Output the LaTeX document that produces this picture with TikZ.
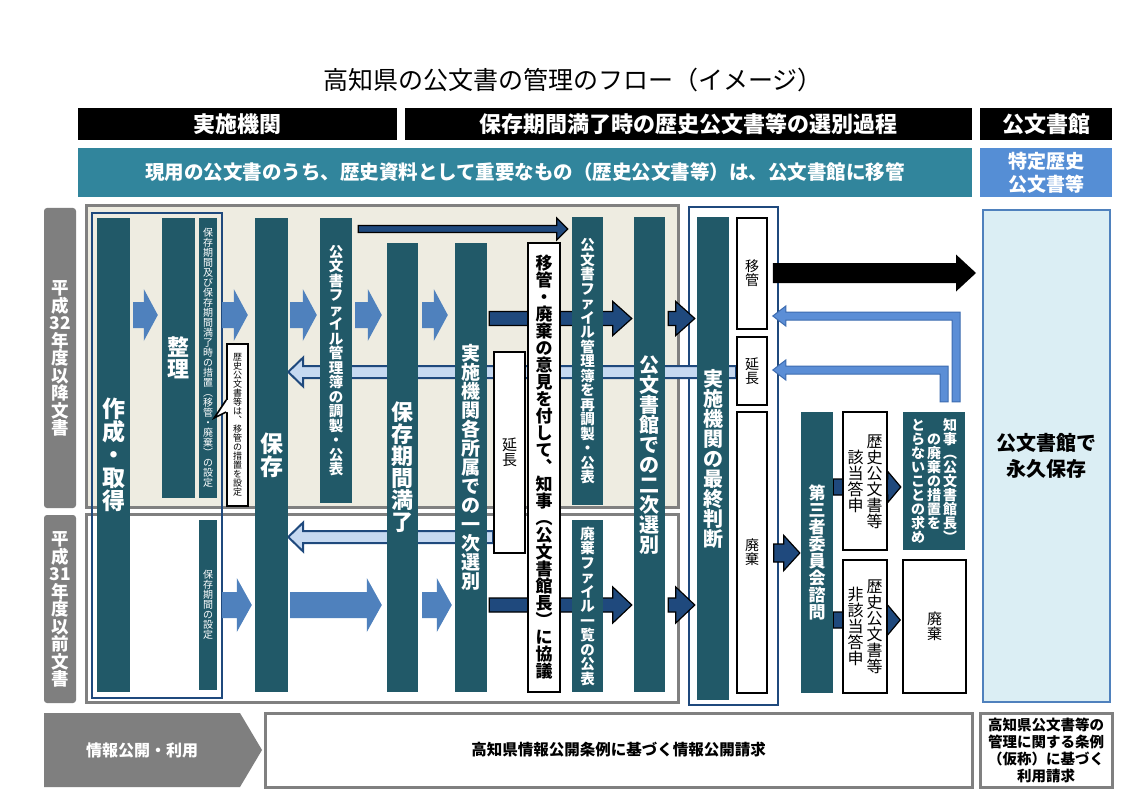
\documentclass[tikz,border=0pt]{standalone}
\usepackage{fontspec}
\setmainfont{Noto Sans CJK JP}
\usepackage{tikz}
\usetikzlibrary{positioning}
\usetikzlibrary{calc}

\definecolor{colteal}{HTML}{215968}
\definecolor{bandteal}{HTML}{31859C}
\definecolor{tokublue}{HTML}{558ED5}
\definecolor{beige}{HTML}{EEECE1}
\definecolor{pangray}{HTML}{808080}
\definecolor{labgray}{HTML}{7F7F7F}
\definecolor{navy}{HTML}{1F497D}
\definecolor{arrblue}{HTML}{4F81BD}
\definecolor{hollowblue}{HTML}{C6D9F1}
\definecolor{retblue}{HTML}{5B8ED6}
\definecolor{retedge}{HTML}{3D6CB0}
\definecolor{paleblue}{HTML}{DBEEF4}

\pgfdeclarelayer{back}
\pgfdeclarelayer{mid}
\pgfsetlayers{back,mid,main}

\makeatletter
\newcommand\tate[1]{\vbox{\offinterlineskip\@tfor\tate@c:=#1\do{\hbox to 1em{\hss\vrule height .88em depth .12em width 0pt\tate@c\hss}}}}
\makeatother
\newcommand\tatec[1]{$\vcenter{\tate{#1}}$}
\newcommand\fsz[1]{\fontsize{#1}{#1}\selectfont}
\newcommand\blk[6]{\path[#1] let \p1=#2, \p2=#3, \n1={#6*sign(\x2-\x1)} in (\x1,{\y1-#4}) -- ({\x2-(\n1)},{\y1-#4}) -- ({\x2-(\n1)},{\y1-#5}) -- (\x2,\y1) -- ({\x2-(\n1)},{\y1+#5}) -- ({\x2-(\n1)},{\y1+#4}) -- (\x1,{\y1+#4}) -- cycle;}
\newcommand\larr[3]{\path[#1] let \p1=#2, \p2=#3 in ({\x1-4pt},\y1) -- ({\x1-4pt},{\y2-4pt}) -- ({\x2+13pt},{\y2-4pt}) -- ({\x2+13pt},{\y2-10pt}) -- (\x2,\y2) -- ({\x2+13pt},{\y2+10pt}) -- ({\x2+13pt},{\y2+4pt}) -- ({\x1+4pt},{\y2+4pt}) -- ({\x1+4pt},\y1) -- cycle;}

\begin{document}
\begin{tikzpicture}[x=1pt, y=-1pt,
col/.style={rectangle, fill=colteal, text=white, inner sep=0pt},
wbox/.style={rectangle, draw=black, line width=1.6pt, fill=white, inner sep=0pt},
wh/.style 2 args={minimum width=#1, minimum height=#2},
fs/.style={font=\bfseries\fsz{#1}},
hdr/.style={rectangle, fill=black, text=white, inner sep=0pt, minimum height=32pt, font=\bfseries\fsz{22}},
lab/.style={rectangle, rounded corners=3pt, fill=labgray, text=white, inner sep=0pt},
panel/.style={rectangle, draw=pangray, line width=3pt, inner sep=0pt},
bframe/.style={rectangle, draw=navy, line width=2.5pt, inner sep=0pt},
lblue/.style={fill=arrblue},
dblue/.style={fill=navy, draw=black, line width=1.2pt},
blackarr/.style={fill=black},
hollow/.style={fill=hollowblue, draw=navy, line width=2pt},
lret/.style={fill=retblue, draw=retedge, line width=1pt},
]
\useasboundingbox (0,0) rectangle (1123,794);

%Header
\node[font=\fsz{25}] (title) at (573,80) {高知県の公文書の管理のフロー（イメージ）};
\node[hdr, minimum width=319pt] (hdrA) at (237.5,124) {実施機関};
\node[hdr, minimum width=567pt] (hdrB) at (688.5,124) {保存期間満了時の歴史公文書等の選別過程};
\node[hdr, minimum width=132pt] (hdrC) at (1046,124) {公文書館};
\node[rectangle, fill=bandteal, text=white, inner sep=0pt, wh={894pt}{49pt}, fs=19.5] (band) at (525,172.5) {現用の公文書のうち、歴史資料として重要なもの（歴史公文書等）は、公文書館に移管};
\node[rectangle, fill=tokublue, text=white, inner sep=0pt, wh={132pt}{49pt}, align=center, font=\bfseries\fontsize{19}{23}\selectfont] (tokutei) at (1046,172.5) {特定歴史\\公文書等};

%Panels
\begin{pgfonlayer}{back}
\fill[white] (0,0) rectangle (1123,794);
\node[panel, fill=beige, wh={592pt}{301pt}] (upper) at (382,356.5) {};
\node[panel, fill=white, wh={592pt}{188pt}] (lower) at (382,608) {};
\node[lab, wh={32pt}{300pt}, fs=17.5] (lab32) at (60,358) {\tate{平成{32}年度以降文書}};
\node[lab, wh={32pt}{188pt}, fs=17.5] (lab31) at (60,609) {\tate{平成{31}年度以前文書}};
\node[bframe, wh={130pt}{485pt}] (leftframe) at (157,455.5) {};
\node[bframe, fill=white, wh={89pt}{498pt}] (finalframe) at (733.5,456) {};
\end{pgfonlayer}
\node[rectangle, draw=arrblue, line width=2pt, fill=paleblue, wh={127pt}{492pt}, align=center, font=\bfseries\fontsize{20}{26}\selectfont] (eikyu) at (1046.5,456) {公文書館で\\永久保存};

%Nodes
\node[col, wh={33pt}{474pt}, fs=23] (sakusei) at (113.5,455) {\tate{作成・取得}};
\node[col, wh={33pt}{280pt}, fs=22] (seiri) at (178.5,358) {\tate{整理}};
\node[col, wh={18pt}{280pt}, font=\fsz{10}] (settei1) at (208,358) {\tate{保存期間及び保存期間満了時の措置︵移管・廃棄︶の設定}};
\node[col, wh={18pt}{170pt}, font=\fsz{10}] (settei2) at (208,605) {\tate{保存期間の設定}};
\node[wbox, wh={21pt}{162pt}, font=\fsz{9}] (callout) at (237.5,425) {\tate{歴史公文書等は︑移管の措置を設定}};
\node[col, wh={33pt}{474pt}, fs=23] (hozon) at (271.5,455) {\tate{保存}};
\node[col, wh={32pt}{285pt}, fs=14.5] (kanribo) at (336,360.5) {\tate{公文書ファイル管理簿の調製・公表}};
\node[col, wh={31pt}{449pt}, fs=22] (manryo) at (402.5,467.5) {\tate{保存期間満了}};
\node[col, wh={32pt}{449pt}, fs=19] (ichiji) at (471,467.5) {\tate{実施機関各所属での一次選別}};
\node[wbox, wh={31pt}{201pt}, font=\fsz{15}] (encho1) at (509.5,452.5) {\tate{延長}};
\node[wbox, wh={32pt}{449pt}, fs=17] (kyogi) at (544,467.5) {\tate{移管・廃棄の意見を付して︑知事︵公文書館長︶に協議}};
\node[col, wh={31pt}{288pt}, fs=14.5] (saikanribo) at (587.5,361) {\tate{公文書ファイル管理簿を再調製・公表}};
\node[col, wh={31pt}{172pt}, fs=14.5] (haikilist) at (587.5,606) {\tate{廃棄ファイル一覧の公表}};
\node[col, wh={31pt}{475pt}, fs=20] (niji) at (649.5,454.5) {\tate{公文書館での二次選別}};
\node[col, wh={32pt}{483pt}, fs=20] (saishu) at (713,458.5) {\tate{実施機関の最終判断}};
\node[wbox, wh={30pt}{111pt}, font=\fsz{14}] (iko) at (752,273.5) {\tate{移管}};
\node[wbox, wh={30pt}{68pt}, font=\fsz{14}] (encho2) at (752,371) {\tate{延長}};
\node[wbox, wh={30pt}{281pt}, font=\fsz{14}] (haiki1) at (752,552.5) {\tate{廃棄}};
\node[col, wh={32pt}{281pt}, fs=17] (shimon) at (817,552.5) {\tate{第三者委員会諮問}};
\node[wbox, wh={44pt}{138pt}, font=\fsz{16}] (gaito) at (865,481) {\tatec{該当答申}\kern3pt\tatec{歴史公文書等}};
\node[wbox, wh={44pt}{133pt}, font=\fsz{16}] (higaito) at (865,626.5) {\tatec{非該当答申}\kern3pt\tatec{歴史公文書等}};
\node[col, wh={62pt}{138pt}, fs=14] (motome) at (934,481) {\tatec{とらないことの求め}\kern2pt\tatec{の廃棄の措置を}\kern2pt\tatec{知事︵公文書館長︶}};
\node[wbox, wh={63pt}{133pt}, font=\fsz{15}] (haiki2) at (934.5,626.5) {\tatec{廃棄}};

%Callout tail
\fill[white] ($(callout.west)+(2,-25)$) -- ($(callout.west)+(0,-25)$) -- ($(callout.west)+(-12,-7)$) -- ($(callout.west)+(0,-13)$) -- ($(callout.west)+(2,-13)$) -- cycle;
\draw[line width=1.6pt, line join=miter] ($(callout.west)+(0,-25)$) -- ($(callout.west)+(-12,-7)$) -- ($(callout.west)+(0,-13)$);

%Footer
\fill[labgray] (44,713) -- (240,713) -- (262,750) -- (240,787) -- (44,787) -- cycle;
\node[text=white, fs=16] (joho) at (142,750) {情報公開・利用};
\node[rectangle, draw=pangray, line width=3pt, fill=white, wh={707pt}{74pt}, fs=15.5] (seikyu) at (618.5,750) {高知県情報公開条例に基づく情報公開請求};
\node[rectangle, draw=pangray, line width=3pt, fill=white, inner sep=0pt, wh={132pt}{74pt}, align=center, font=\bfseries\fontsize{14.5}{17}\selectfont] (riyou) at (1046,750) {高知県公文書等の\\管理に関する条例\\（仮称）に基づく\\利用請求};

%Lines
\coordinate (rowA) at (0,315);
\coordinate (rowB) at (0,605);
\coordinate (rowC) at (0,318.5);
\coordinate (rowD) at (0,372);
\coordinate (rowE) at (0,537);
\coordinate (rowF) at (0,229);
\coordinate (rowG) at (0,273);
\coordinate (rowH) at (0,553);
\coordinate (rowI) at (0,487);
\coordinate (rowJ) at (0,620);
\begin{pgfonlayer}{mid}
\blk{hollow}{(encho2.west |- rowD)}{(hozon.east |- rowD)}{6pt}{14.5pt}{15pt}
\blk{hollow}{(encho1.west |- rowE)}{(hozon.east |- rowE)}{6pt}{14.5pt}{15pt}
\blk{lblue}{($(sakusei.east |- rowA)+(3,0)$)}{($(seiri.west |- rowA)+(-4,0)$)}{13pt}{26pt}{14pt}
\blk{lblue}{($(settei1.east |- rowA)+(5,0)$)}{($(hozon.west |- rowA)+(-7,0)$)}{13pt}{26pt}{14pt}
\blk{lblue}{($(hozon.east |- rowA)+(2,0)$)}{($(kanribo.west |- rowA)+(-3,0)$)}{13pt}{26pt}{14pt}
\blk{lblue}{($(kanribo.east |- rowA)+(3,0)$)}{($(manryo.west |- rowA)+(-5,0)$)}{13pt}{26pt}{14pt}
\blk{lblue}{($(manryo.east |- rowA)+(4,0)$)}{($(ichiji.west |- rowA)+(-7,0)$)}{13pt}{26pt}{14pt}
\blk{lblue}{($(settei2.east |- rowB)+(5,0)$)}{($(hozon.west |- rowB)+(-3,0)$)}{13pt}{27pt}{15pt}
\blk{lblue}{($(hozon.east |- rowB)+(2,0)$)}{($(manryo.west |- rowB)+(-5,0)$)}{13pt}{27pt}{15pt}
\blk{lblue}{($(manryo.east |- rowB)+(4,0)$)}{($(ichiji.west |- rowB)+(-3,0)$)}{13pt}{27pt}{15pt}
\blk{dblue}{($(kanribo.east |- rowF)+(6,0)$)}{($(saikanribo.west |- rowF)+(-4,0)$)}{3.5pt}{11pt}{11pt}
\blk{dblue}{($(ichiji.east |- rowC)+(2,0)$)}{($(niji.west |- rowC)+(-2,0)$)}{7pt}{17pt}{19pt}
\blk{dblue}{($(niji.east |- rowC)+(3,0)$)}{($(saishu.west |- rowC)+(-2,0)$)}{7pt}{17pt}{19pt}
\blk{dblue}{($(ichiji.east |- rowB)+(2,0)$)}{($(niji.west |- rowB)+(-2,0)$)}{7pt}{18pt}{19pt}
\blk{dblue}{($(niji.east |- rowB)+(3,0)$)}{($(saishu.west |- rowB)+(-2,0)$)}{7pt}{18pt}{19pt}
\blk{dblue}{($(haiki1.east |- rowH)+(6,0)$)}{($(shimon.west |- rowH)+(-1,0)$)}{9pt}{17.5pt}{16pt}
\blk{dblue}{(shimon.east |- rowI)}{($(motome.west |- rowI)+(-2,0)$)}{8pt}{15.5pt}{13pt}
\blk{dblue}{(shimon.east |- rowJ)}{($(haiki2.west |- rowJ)+(-2,0)$)}{8pt}{15.5pt}{13pt}
\blk{blackarr}{($(iko.east |- rowG)+(5,0)$)}{($(eikyu.west |- rowG)+(-6,0)$)}{10pt}{18.5pt}{20pt}
\larr{lret}{($(motome.north)+(22,-10)$)}{($(iko.east)+(5,42.5)$)}
\larr{lret}{($(motome.north)+(10,-10)$)}{($(encho2.east)+(5,-1)$)}
\end{pgfonlayer}
\end{tikzpicture}
\end{document}
